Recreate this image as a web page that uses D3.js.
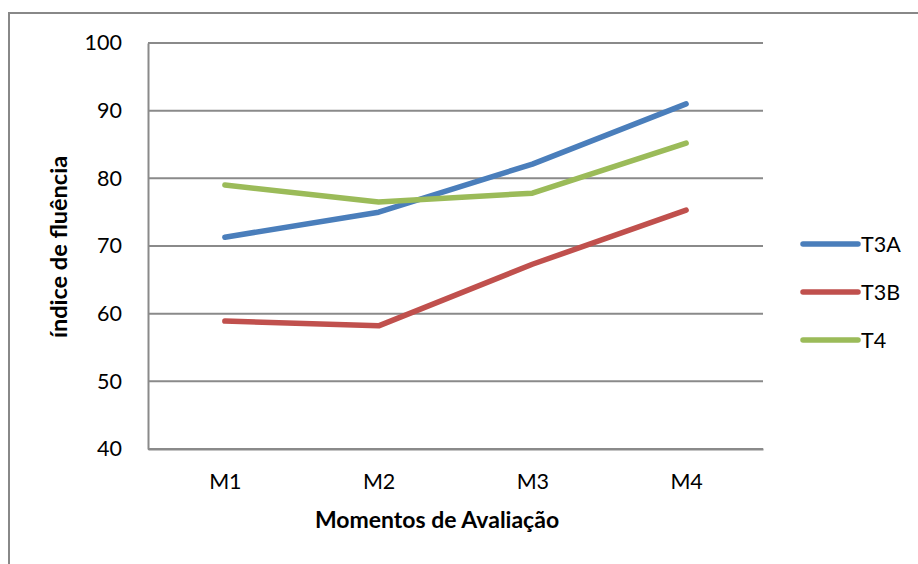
<!DOCTYPE html>
<html>
<head>
<meta charset="utf-8">
<script src="https://cdn.jsdelivr.net/npm/d3@7"></script>
<style>
  body { margin: 0; background: #fff; }
  text { font-family: Lato, "Open Sans", sans-serif; fill: #000; }
</style>
</head>
<body>
<div id="chart"></div>
<script>
// data
const categories = ["M1", "M2", "M3", "M4"];
const seriesNames = ["T3A", "T3B", "T4"];
const t3a = [71.3, 75.0, 82.1, 91.0];
const t3b = [58.9, 58.2, 67.3, 75.3];
const t4 = [79.0, 76.5, 77.8, 85.2];
const yTicks = [40, 50, 60, 70, 80, 90, 100];
const colors = ["#4A7EBB", "#C0504D", "#9BBB59"];

const series = [t3a, t3b, t4];

const width = 918, height = 564;
const plot = { left: 148, right: 763, top: 43, bottom: 449 };

const svg = d3.select("#chart")
  .append("svg")
  .attr("width", width)
  .attr("height", height);

// outer chart border (only top & left show in the picture)
svg.append("rect")
  .attr("x", 9).attr("y", 13)
  .attr("width", width + 20).attr("height", height + 20)
  .attr("fill", "none")
  .attr("stroke", "#888")
  .attr("stroke-width", 2);

const x = d3.scalePoint()
  .domain(categories)
  .range([plot.left, plot.right])
  .padding(0.5);

const y = d3.scaleLinear()
  .domain([40, 100])
  .range([plot.bottom, plot.top]);

// gridlines
svg.append("g")
  .selectAll("line")
  .data(yTicks)
  .enter().append("line")
  .attr("x1", plot.left)
  .attr("x2", plot.right)
  .attr("y1", d => y(d))
  .attr("y2", d => y(d))
  .attr("stroke", "#8a8a8a")
  .attr("stroke-width", 2);

// y axis
const yAxis = svg.append("g")
  .attr("transform", "translate(" + plot.left + ",0)")
  .call(d3.axisLeft(y).tickValues(yTicks).tickSize(0).tickPadding(26));
yAxis.select(".domain").attr("stroke", "#8a8a8a").attr("stroke-width", 2);
yAxis.selectAll("text")
  .style("font-family", "Lato, sans-serif")
  .style("font-size", "21.5px")
  .attr("fill", "#000");

// x axis
const xAxis = svg.append("g")
  .attr("transform", "translate(0," + plot.bottom + ")")
  .call(d3.axisBottom(x).tickSize(0).tickPadding(25));
xAxis.select(".domain").attr("stroke", "#8a8a8a").attr("stroke-width", 2);
xAxis.selectAll("text")
  .style("font-family", "Lato, sans-serif")
  .style("font-size", "21.5px")
  .attr("fill", "#000");

// axis titles
svg.append("text")
  .attr("x", 437)
  .attr("y", 528)
  .attr("text-anchor", "middle")
  .style("font-size", "23px")
  .style("font-weight", "bold")
  .text("Momentos de Avaliação");

svg.append("text")
  .attr("transform", "translate(67,247) rotate(-90)")
  .attr("text-anchor", "middle")
  .style("font-size", "23.5px")
  .style("font-weight", "bold")
  .text("índice de fluência");

// lines
const line = d3.line()
  .x((d, i) => x(categories[i]))
  .y(d => y(d));

svg.append("g")
  .selectAll("path")
  .data(series)
  .enter().append("path")
  .attr("d", line)
  .attr("fill", "none")
  .attr("stroke", (d, i) => colors[i])
  .attr("stroke-width", 5.5)
  .attr("stroke-linecap", "round")
  .attr("stroke-linejoin", "round");

// legend
const legend = svg.append("g")
  .selectAll("g")
  .data(seriesNames)
  .enter().append("g")
  .attr("transform", (d, i) => "translate(803," + (244 + i * 48) + ")");

legend.append("line")
  .attr("x1", 0).attr("x2", 55)
  .attr("stroke", (d, i) => colors[i])
  .attr("stroke-width", 5.5)
  .attr("stroke-linecap", "round");

legend.append("text")
  .attr("x", 58)
  .attr("dy", "0.35em")
  .style("font-size", "21.5px")
  .text(d => d);
</script>
</body>
</html>
